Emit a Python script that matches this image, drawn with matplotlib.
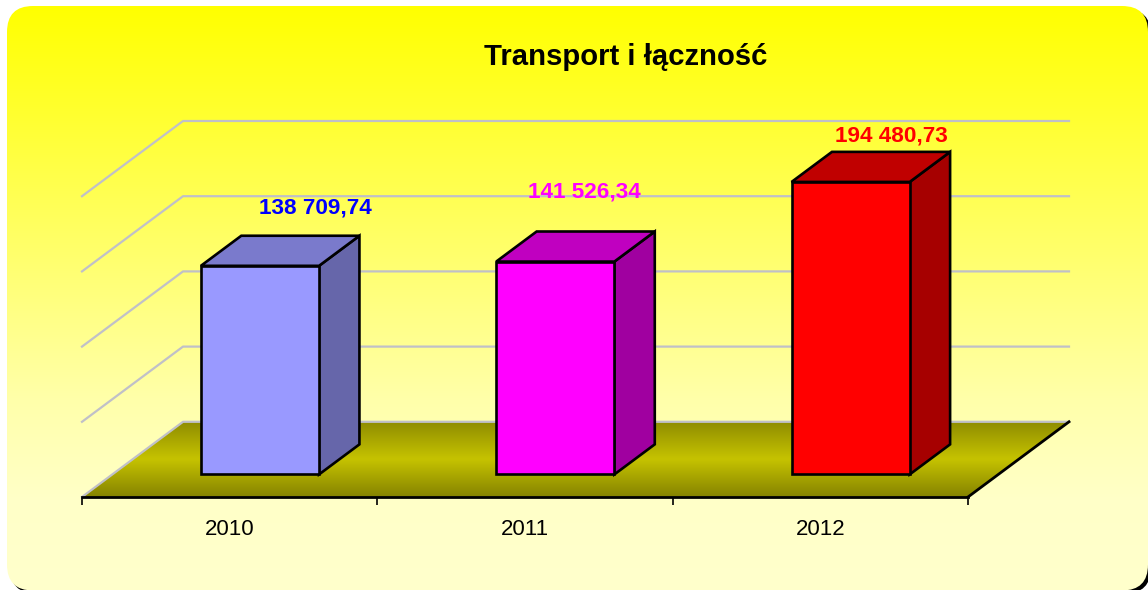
import numpy as np
from matplotlib import pyplot as plt
from matplotlib.patches import FancyBboxPatch

plt.rcParams['font.family'] = ['Liberation Sans', 'DejaVu Sans']

years = ['2010', '2011', '2012']
values = [138709.74, 141526.34, 194480.73]
value_labels = ['138 709,74', '141 526,34', '194 480,73']
grid_values = [0, 50000, 100000, 150000, 200000]

front_colors = ['#9999ff', '#ff00ff', '#ff0000']
top_colors = ['#7a7acc', '#c000c0', '#c00000']
side_colors = ['#6666aa', '#a000a0', '#a60000']
label_colors = ['#0000ff', '#ff00ff', '#ff0000']
# label shift from the bar's back top centre, in pixels
label_shift = [(15, 28), (-11, 40), (0, 16)]

W, H = 1148, 590
# one full step into the depth of the chart
depth_x = 0.342
depth_v = 50000


def project(x, v, d):
    return x + d * depth_x, v + d * depth_v


fig = plt.figure(figsize=(W / 100, H / 100), dpi=100, facecolor='white')

# panel behind the plot, in pixel coords
bg = fig.add_axes([0, 0, 1, 1])
bg.set_xlim(0, W)
bg.set_ylim(H, 0)
bg.axis('off')
shadow = FancyBboxPatch((36, 35), 1089, 532.5, boxstyle='round,pad=26,rounding_size=26',
                        fc='black', ec='none')
bg.add_patch(shadow)
panel = FancyBboxPatch((33, 32), 1089, 532.5, boxstyle='round,pad=26,rounding_size=26',
                       fc='none', ec='none')
bg.add_patch(panel)
rows = np.arange(H)
blue = np.interp(rows, [6, 200, 400, 500, 590], [0, 85, 170, 200, 204])
grad = np.zeros((H, 1, 3))
grad[:, 0, 0] = 1
grad[:, 0, 1] = 1
grad[:, 0, 2] = blue / 255
im = bg.imshow(grad, extent=(0, W, H, 0), aspect='auto', zorder=2)
im.set_clip_path(panel)
bg.set_xlim(0, W)
bg.set_ylim(H, 0)

# x 0..3 runs from px 82 to 968, value 0 at y=497, 250000 at y=121
ax = fig.add_axes([82 / W, (H - 497) / H, (968 - 82) / W, (497 - 121) / H])
ax.patch.set_alpha(0)
ax.set_xlim(0, 3)
ax.set_ylim(0, 250000)

# floor
floor_pts = [project(0, 0, 0), project(3, 0, 0), project(3, 0, 1), project(0, 0, 1)]
floor = ax.fill(*zip(*floor_pts), fc='none', ec='none', clip_on=False)[0]
shade = np.interp(np.linspace(0, 1, 40), [0, 0.5, 1], [0x8f, 0xc6, 0x86]) / 255
floor_img = np.zeros((40, 1, 3))
floor_img[:, 0, 0] = shade
floor_img[:, 0, 1] = shade * 0.985
floor_img[:, 0, 2] = 0
fl = ax.imshow(floor_img, extent=(0, 3 + depth_x, 0, depth_v), aspect='auto',
               interpolation='bilinear', zorder=1)
fl.set_clip_path(floor)
fl.set_clip_box(fig.bbox)
ax.set_xlim(0, 3)
ax.set_ylim(0, 250000)

# walls
for v in grid_values:
    xs, ys = zip(project(0, v, 0), project(0, v, 1), project(3, v, 1))
    ax.plot(xs, ys, color='#c0c0c8', lw=1.6, clip_on=False, zorder=2)
xs, ys = zip(project(3, 0, 0), project(3, 0, 1))
ax.plot(xs, ys, color='black', lw=2, clip_on=False, zorder=2)

# bars
bar_width = 0.4
d0, d1 = 0.3, 0.7
for i, v in enumerate(values):
    x0 = i + 0.5 - bar_width / 2
    x1 = i + 0.5 + bar_width / 2
    front = [project(x0, 0, d0), project(x1, 0, d0), project(x1, v, d0), project(x0, v, d0)]
    top = [project(x0, v, d0), project(x1, v, d0), project(x1, v, d1), project(x0, v, d1)]
    side = [project(x1, 0, d0), project(x1, 0, d1), project(x1, v, d1), project(x1, v, d0)]
    for pts, c in [(side, side_colors[i]), (top, top_colors[i]), (front, front_colors[i])]:
        ax.fill(*zip(*pts), fc=c, ec='black', lw=1.9, joinstyle='miter', clip_on=False, zorder=3)
    lx, ly = project(i + 0.5, v, d1)
    ax.annotate(value_labels[i], (lx, ly), xytext=(label_shift[i][0] * 0.72, label_shift[i][1] * 0.72),
                textcoords='offset points', ha='center', va='center', fontsize=16.2,
                fontweight='bold', color=label_colors[i], annotation_clip=False, zorder=4)

# axis
for s in ['top', 'left', 'right']:
    ax.spines[s].set_visible(False)
ax.spines['bottom'].set_linewidth(2)
ax.spines['bottom'].set_zorder(5)
ax.set_yticks([])
ax.set_xticks([0, 1, 2, 3])
ax.set_xticklabels([])
ax.set_xticks([0.5, 1.5, 2.5], minor=True)
ax.set_xticklabels(years, minor=True, fontsize=16)
ax.tick_params(axis='x', which='major', length=6, width=1.2)
ax.tick_params(axis='x', which='minor', length=0, pad=15.5)

fig.text(625.5 / W, 1 - 57 / H, 'Transport i łączność', ha='center', va='center',
         fontsize=21.1, fontweight='bold', color='black')

fig.savefig('out.png', dpi=100)
